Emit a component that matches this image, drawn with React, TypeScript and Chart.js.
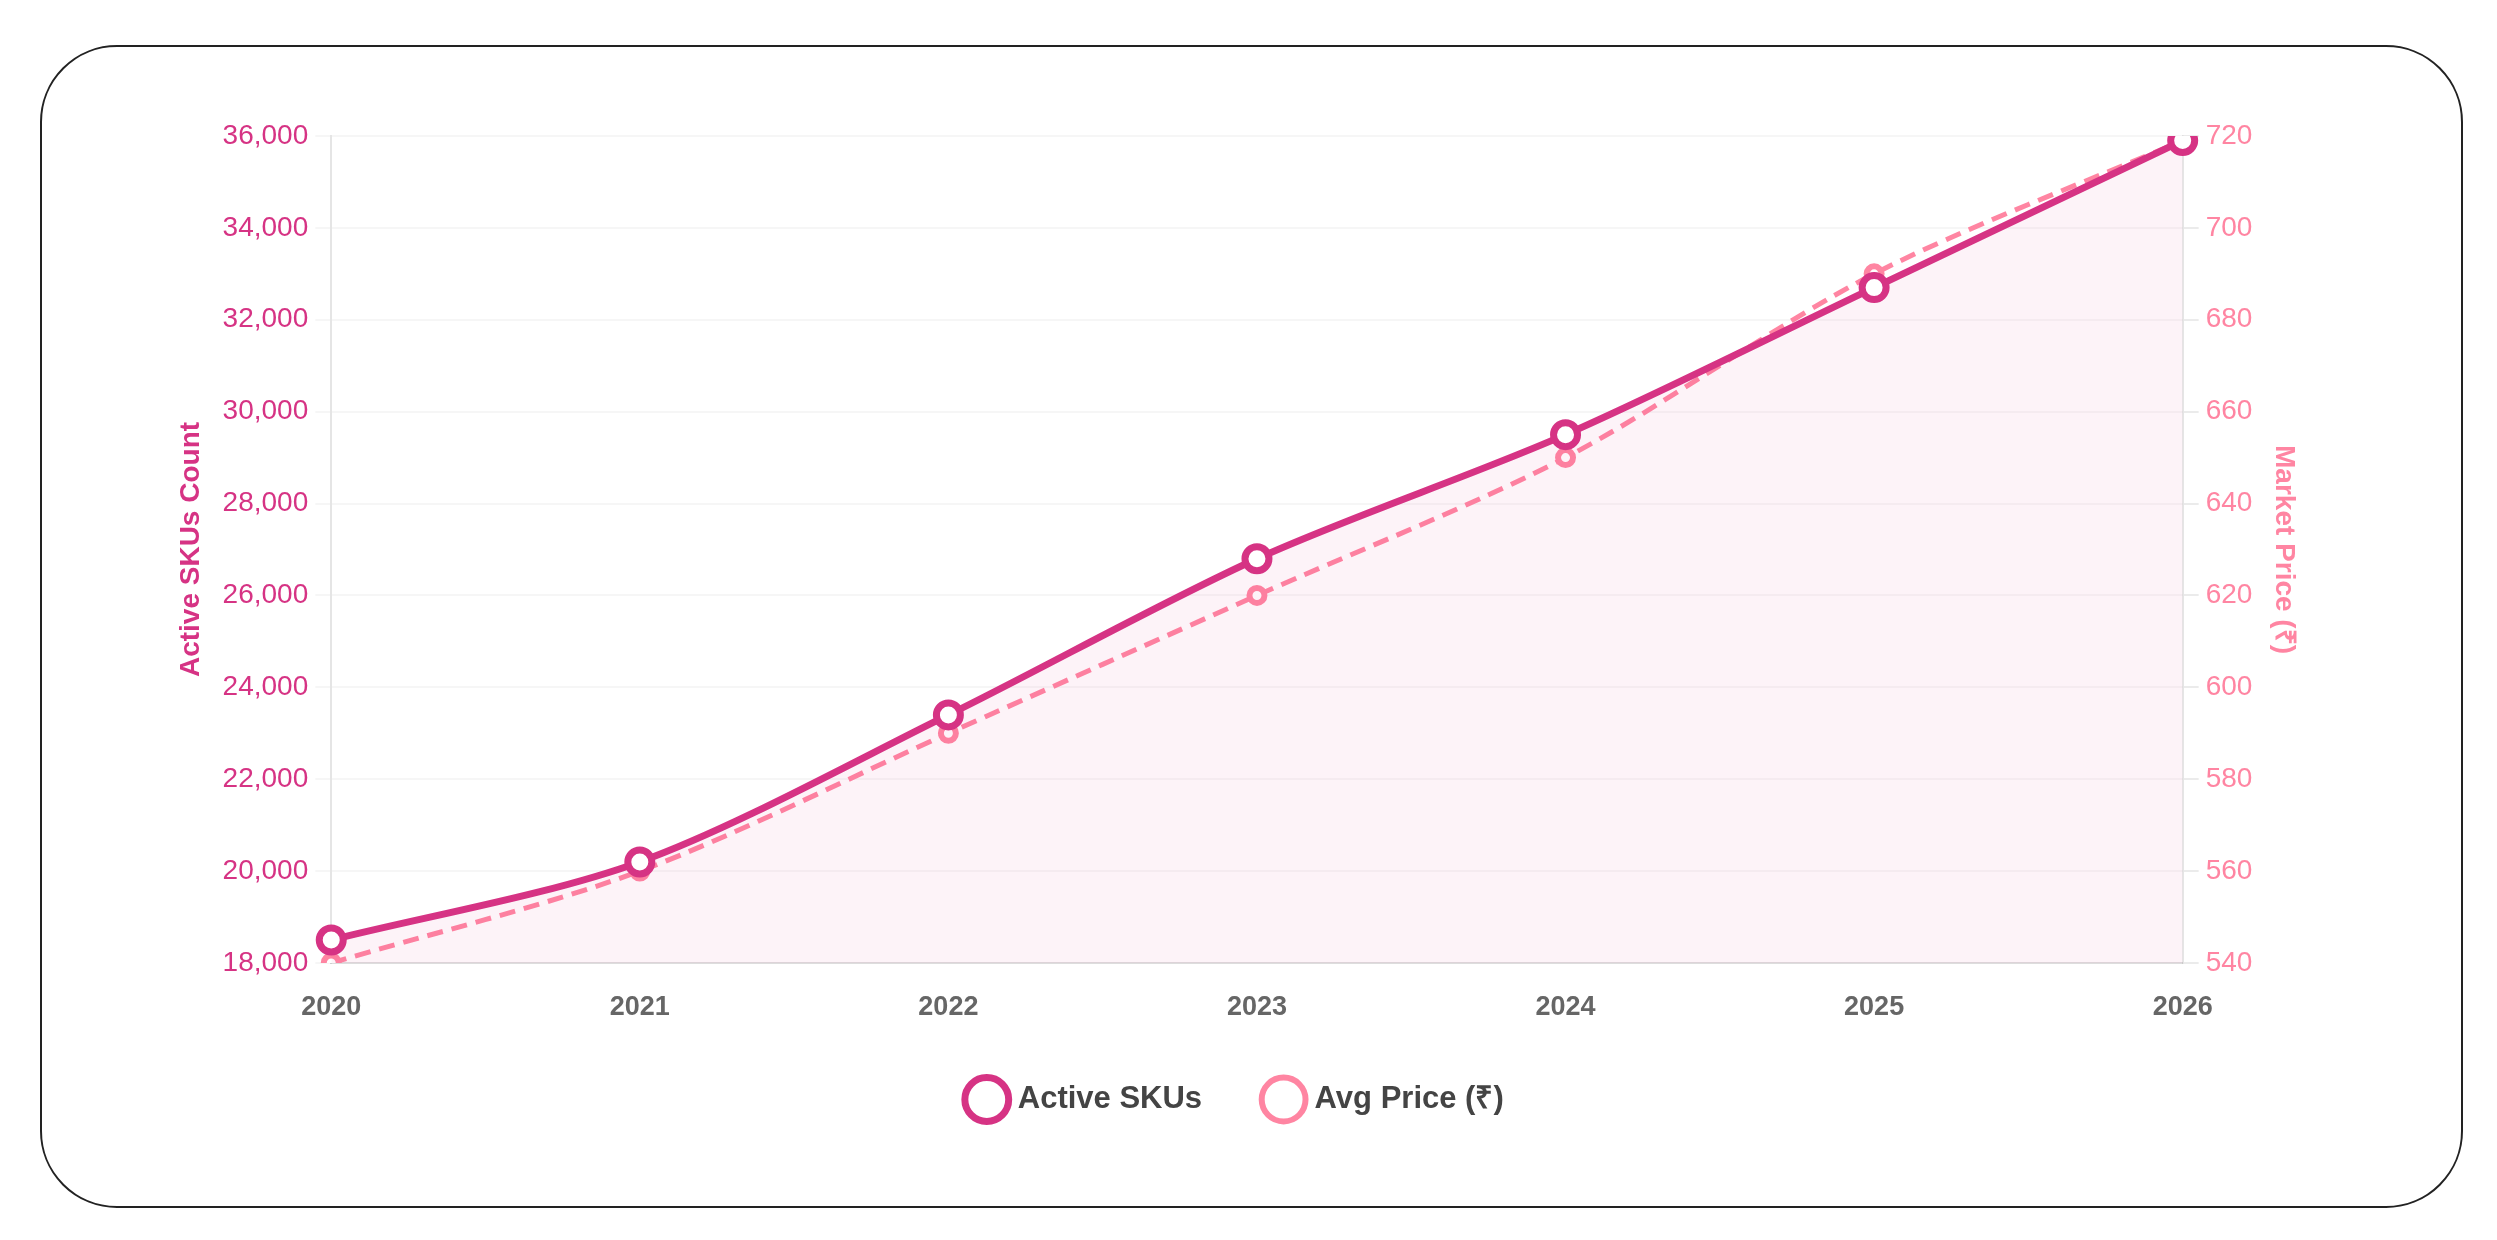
import React, { useEffect, useRef } from "react";
import { Chart, registerables } from "chart.js";

Chart.register(...registerables);

const years = ["2020", "2021", "2022", "2023", "2024", "2025", "2026"];
const activeSkus = [18500, 20200, 23400, 26800, 29500, 32700, 35900];
const avgPrice = [540, 560, 590, 620, 650, 690, 719];

const SKU_COLOR = "#d63384";
const PRICE_COLOR = "#ff85a2";
const FONT = "Arial, 'Liberation Sans', Helvetica, sans-serif";

export default function App() {
  const canvasRef = useRef<HTMLCanvasElement | null>(null);

  useEffect(() => {
    if (!canvasRef.current) return;
    const chart = new Chart(canvasRef.current, {
      type: "line",
      data: {
        labels: years,
        datasets: [
          {
            label: "Active SKUs",
            data: activeSkus,
            yAxisID: "y",
            borderColor: SKU_COLOR,
            backgroundColor: "rgba(214, 51, 132, 0.06)",
            borderWidth: 7,
            fill: "start",
            tension: 0.3,
            pointRadius: 12,
            pointHoverRadius: 12,
            pointBorderWidth: 7,
            pointBackgroundColor: "#ffffff",
            pointBorderColor: SKU_COLOR,
          },
          {
            label: "Avg Price (₹)",
            data: avgPrice,
            yAxisID: "y1",
            borderColor: PRICE_COLOR,
            backgroundColor: "#ffffff",
            borderWidth: 5,
            borderDash: [16, 9],
            fill: false,
            tension: 0.3,
            pointRadius: 7.5,
            pointHoverRadius: 7.5,
            pointBorderWidth: 6,
            pointBackgroundColor: "#ffffff",
            pointBorderColor: PRICE_COLOR,
          },
        ],
      },
      options: {
        animation: false,
        responsive: true,
        maintainAspectRatio: false,
        layout: { padding: { top: 89, left: 123, right: 151, bottom: 81 } },
        plugins: {
          legend: {
            position: "bottom",
            labels: {
              usePointStyle: true,
              pointStyle: "circle",
              padding: 66,
              color: "#444444",
              font: { family: FONT, size: 31, weight: "bold" },
            },
          },
          tooltip: { enabled: false },
        },
        scales: {
          x: {
            grid: { display: true, drawOnChartArea: false, drawTicks: false },
            border: { display: true, color: "rgba(0,0,0,0.1)", width: 2 },
            ticks: {
              padding: 28,
              color: "#666666",
              font: { family: FONT, size: 27, weight: "bold" },
            },
            afterFit: (scale: any) => {
              scale.height = 55;
            },
          },
          y: {
            position: "left",
            min: 18000,
            max: 36000,
            ticks: {
              stepSize: 2000,
              padding: 7,
              color: SKU_COLOR,
              font: { family: FONT, size: 28 },
            },
            grid: { color: "rgba(0,0,0,0.035)", tickLength: 16, lineWidth: 2 },
            border: { display: true, color: "rgba(0,0,0,0.1)", width: 2 },
            title: {
              display: true,
              text: "Active SKUs Count",
              color: SKU_COLOR,
              padding: { top: 9, bottom: 8 },
              font: { family: FONT, size: 28, weight: "bold" },
            },
          },
          y1: {
            position: "right",
            min: 540,
            max: 720,
            ticks: {
              stepSize: 20,
              padding: 7,
              color: PRICE_COLOR,
              font: { family: FONT, size: 28 },
            },
            grid: { drawOnChartArea: false, color: "rgba(0,0,0,0.08)", tickLength: 16, lineWidth: 2 },
            border: { display: true, color: "rgba(0,0,0,0.1)", width: 2 },
            title: {
              display: true,
              text: "Market Price (₹)",
              color: PRICE_COLOR,
              padding: { top: 9, bottom: 8 },
              font: { family: FONT, size: 28, weight: "bold" },
            },
          },
        },
      },
    });
    return () => chart.destroy();
  }, []);

  return (
    <div
      style={{
        position: "absolute",
        left: 40,
        top: 45,
        width: 2423,
        height: 1163,
        boxSizing: "border-box",
        border: "2px solid #222222",
        borderRadius: 77,
        background: "#ffffff",
      }}
    >
      <div style={{ position: "absolute", left: 0, top: 0, right: 0, bottom: 0 }}>
        <canvas ref={canvasRef} />
      </div>
    </div>
  );
}
